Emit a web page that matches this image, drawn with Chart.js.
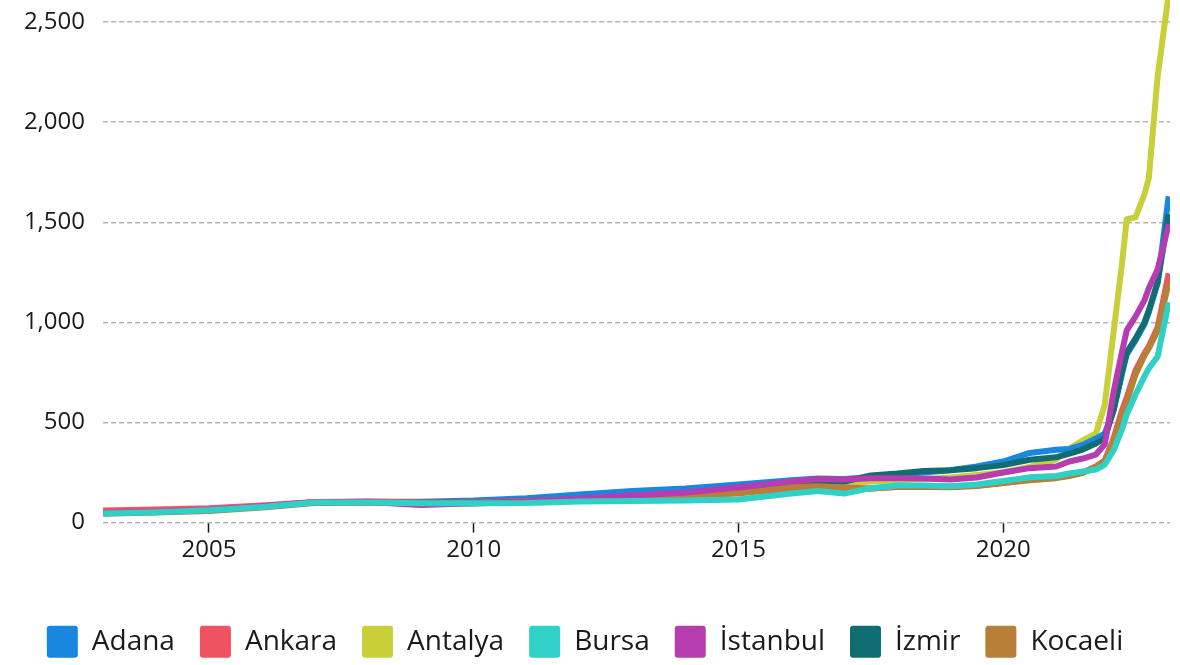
<!DOCTYPE html>
<html>
<head>
<meta charset="utf-8">
<script src="https://cdn.jsdelivr.net/npm/chart.js@4/dist/chart.umd.min.js"></script>
<style>
html,body{margin:0;padding:0;background:#fff;}
#wrap{width:1180px;height:665px;position:relative;}
</style>
</head>
<body>
<div id="wrap"><canvas id="c" width="1180" height="665"></canvas></div>
<script>
// Periods (decimal years)
const periods = [2003, 2004, 2005, 2006, 2007, 2008, 2009, 2010, 2011, 2012, 2013, 2014, 2015, 2016, 2016.5, 2017, 2017.5, 2018, 2018.5, 2019, 2019.5, 2020, 2020.5, 2021, 2021.25, 2021.5, 2021.75, 2021.917, 2022.083, 2022.25, 2022.333, 2022.5, 2022.667, 2022.75, 2022.917, 2023.125];

const seriesNames = ["Adana", "Ankara", "Antalya", "Bursa", "İstanbul", "İzmir", "Kocaeli"];

const adana    = [48, 54, 63, 80, 102, 104, 104, 110, 122, 140, 158, 170, 190, 212, 220, 218, 228, 240, 250, 262, 280, 305, 348, 364, 368, 388, 420, 445, 560, 750, 840, 910, 990, 1050, 1200, 1630];
const ankara   = [60, 65, 72, 85, 103, 105, 100, 100, 108, 118, 128, 138, 150, 165, 168, 165, 170, 178, 178, 176, 183, 198, 215, 225, 235, 250, 280, 310, 420, 565, 625, 760, 845, 880, 975, 1245];
const antalya  = [50, 55, 65, 80, 100, 102, 98, 100, 106, 114, 125, 138, 155, 180, 190, 195, 205, 212, 218, 225, 238, 252, 278, 315, 370, 410, 445, 587, 948, 1310, 1515, 1525, 1640, 1720, 2230, 2640];
const bursa    = [46, 52, 62, 78, 100, 100, 97, 97, 98, 105, 108, 110, 115, 145, 158, 145, 172, 185, 185, 182, 190, 208, 226, 233, 245, 255, 265, 290, 360, 470, 540, 640, 730, 770, 830, 1100];
const istanbul = [48, 54, 63, 80, 102, 103, 88, 97, 105, 120, 135, 150, 175, 205, 218, 215, 222, 222, 220, 215, 225, 250, 272, 280, 305, 320, 340, 390, 650, 860, 960, 1030, 1110, 1170, 1265, 1490];
const izmir    = [48, 54, 63, 80, 102, 103, 100, 100, 108, 118, 130, 145, 165, 192, 200, 205, 235, 245, 258, 262, 272, 287, 314, 326, 345, 365, 395, 420, 560, 760, 850, 920, 1000, 1060, 1200, 1540];
const kocaeli  = [44, 50, 58, 75, 98, 100, 96, 96, 103, 113, 123, 135, 145, 178, 182, 175, 170, 180, 180, 178, 185, 198, 212, 222, 232, 248, 278, 305, 410, 545, 605, 740, 835, 870, 960, 1200];

const yTicks = [0, 500, 1000, 1500, 2000, 2500];
const xTicks = [2005, 2010, 2015, 2020];

const colors = ["#1a87df", "#ef5361", "#c7d039", "#2fd0c5", "#b63cb0", "#106d71", "#b77f37"];
// higher number = drawn earlier (further back)
const drawOrder = [5, 3, 6, 0, 1, 4, 2];
const allValues = [adana, ankara, antalya, bursa, istanbul, izmir, kocaeli];

const datasets = seriesNames.map((name, i) => ({
  label: name,
  data: periods.map((p, k) => ({x: p, y: allValues[i][k]})),
  borderColor: colors[i],
  backgroundColor: colors[i],
  borderWidth: 6,
  pointRadius: 0,
  pointHoverRadius: 0,
  tension: 0,
  borderJoinStyle: 'round',
  order: drawOrder[i]
}));

const FONT = "'Open Sans', 'Noto Sans', sans-serif";

new Chart(document.getElementById('c'), {
  type: 'line',
  data: { datasets },
  options: {
    responsive: false,
    animation: false,
    layout: { padding: { top: 0, right: 10, bottom: -2.8, left: 0 } },
    plugins: {
      tooltip: { enabled: false },
      legend: {
        position: 'bottom',
        labels: {
          font: { family: FONT, size: 28 },
          color: '#1a1a1a',
          boxWidth: 31,
          boxHeight: 32,
          padding: 25,
          useBorderRadius: true,
          borderRadius: 3,
          sort: (a, b) => a.datasetIndex - b.datasetIndex,
          generateLabels: (chart) => {
            const items = Chart.defaults.plugins.legend.labels.generateLabels(chart);
            items.forEach(it => { it.lineWidth = 0; it.fillStyle = colors[it.datasetIndex]; it.strokeStyle = colors[it.datasetIndex]; });
            return items;
          }
        }
      }
    },
    scales: {
      x: {
        type: 'linear',
        min: 2003,
        max: 2023.15,
        border: { display: false },
        grid: { display: true, drawOnChartArea: false, drawTicks: true, tickLength: 10, tickColor: '#1a1a1a', tickWidth: 1.5 },
        afterBuildTicks: (scale) => { scale.ticks = xTicks.map(v => ({value: v})); },
        ticks: {
          font: { family: FONT, size: 24 },
          color: '#1a1a1a',
          padding: 3,
          maxRotation: 0,
          autoSkip: false,
          callback: (v) => String(v)
        },
        afterFit: (scale) => { scale.height = 78.2; scale.paddingLeft = 0; scale.paddingRight = 0; }
      },
      y: {
        type: 'linear',
        min: 0,
        max: 2610,
        border: { display: false, dash: [5, 3] },
        grid: { color: '#b6b6b6', lineWidth: 1.5, drawTicks: false },
        afterBuildTicks: (scale) => { scale.ticks = yTicks.map(v => ({value: v})); },
        ticks: {
          font: { family: FONT, size: 24 },
          color: '#1a1a1a',
          padding: 18,
          callback: (v) => Number(v).toLocaleString('en-US')
        },
        afterFit: (scale) => { scale.width = 103; scale.paddingTop = 0; scale.paddingBottom = 0; }
      }
    }
  }
});
</script>
</body>
</html>
